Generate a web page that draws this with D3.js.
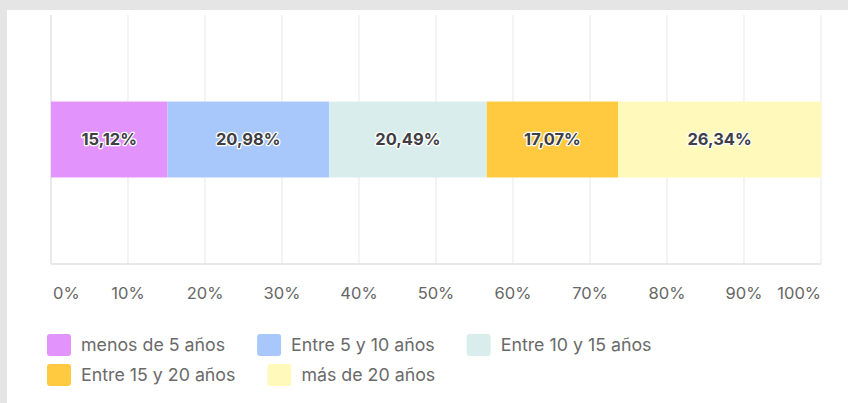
<!DOCTYPE html>
<html>
<head>
<meta charset="utf-8">
<script src="https://cdn.jsdelivr.net/npm/d3@7"></script>
<style>
  html, body { margin: 0; padding: 0; background: #e5e5e5; }
  svg { display: block; }
  text { font-family: Inter, "Noto Sans", sans-serif; }
</style>
</head>
<body>
<svg id="viz" width="848" height="403"></svg>
<script>
// Data

var categories = ["menos de 5 años", "Entre 5 y 10 años", "Entre 10 y 15 años", "Entre 15 y 20 años", "más de 20 años"];
var values = [15.12, 20.98, 20.49, 17.07, 26.34];
var colours = ["#e293fc", "#a8c8fb", "#d9eeec", "#ffc940", "#fff9bb"];
var tick_values = [0, 10, 20, 30, 40, 50, 60, 70, 80, 90, 100];

var svg = d3.select("#viz");

// white panel
svg.append("rect")
    .attr("x", 7).attr("y", 10)
    .attr("width", 841).attr("height", 393)
    .attr("fill", "#fff");

var x = d3.scaleLinear().domain([0, 100]).range([51, 821]);
var y = d3.scaleBand().domain(["row"]).range([15, 264]).paddingInner(0).paddingOuter(1.14);

// Grid lines

var g = svg.append("g");

g.selectAll("line.grid")
    .data(tick_values)
    .enter().append("line")
      .attr("class", "grid")
      .attr("x1", d => x(d)).attr("x2", d => x(d))
      .attr("y1", 15).attr("y2", 264)
      .style("stroke", d => d == 0 ? "#dcdcdc" : "#ececec")
      .attr("stroke-width", 1.2);

g.append("line")
    .attr("x1", x(0)).attr("x2", x(100))
    .attr("y1", 264).attr("y2", 264)
    .style("stroke", "#e2e2e2")
    .attr("stroke-width", 1.5);

// Tick labels (first start-anchored, last end-anchored)

g.selectAll("text.tick")
    .data(tick_values)
    .enter().append("text")
      .attr("class", "tick")
      .attr("x", d => d == 0 ? x(d) + 2 : x(d))
      .attr("y", 299)
      .attr("text-anchor", d => d == 0 ? "start" : (d == 100 ? "end" : "middle"))
      .attr("font-size", 16.5)
      .attr("fill", "#666")
      .text(d => d + "%");

// Stacked bar

var stacked = [];
var acc = 0;
values.forEach(function(v, i) {
    stacked.push({ start: acc, end: acc + v, value: v, colour: colours[i] });
    acc += v;
});

var bars = g.append("g");

bars.selectAll("rect")
    .data(stacked)
    .enter().append("rect")
      .attr("x", d => x(d.start))
      .attr("width", d => x(d.end) - x(d.start))
      .attr("y", y("row"))
      .attr("height", y.bandwidth())
      .attr("fill", d => d.colour);

function fmt(v) {
    return v.toFixed(2).replace(".", ",") + "%";
}

bars.selectAll("text")
    .data(stacked)
    .enter().append("text")
      .attr("x", d => (x(d.start) + x(d.end)) / 2)
      .attr("y", y("row") + y.bandwidth() / 2)
      .attr("dy", "0.35em")
      .attr("text-anchor", "middle")
      .attr("font-size", 16.5)
      .attr("font-weight", 700)
      .attr("fill", "#3e3e44")
      .attr("stroke", "#fff")
      .attr("stroke-width", 2.5)
      .attr("stroke-linejoin", "round")
      .attr("paint-order", "stroke")
      .text(d => fmt(d.value));

// Legend

var legend_rows = [[0, 1, 2], [3, 4]];
var row_y = [345, 375];

legend_rows.forEach(function(row, r) {
    var cx = 47;
    row.forEach(function(i) {
        var item = g.append("g");
        item.append("rect")
            .attr("x", cx).attr("y", row_y[r] - 11)
            .attr("width", 24).attr("height", 22)
            .attr("rx", 3)
            .attr("fill", colours[i]);
        var t = item.append("text")
            .attr("x", cx + 34)
            .attr("y", row_y[r])
            .attr("dy", "0.35em")
            .attr("font-size", 17.8)
            .attr("fill", "#6a6a6a")
            .text(categories[i]);
        cx = cx + 34 + t.node().getComputedTextLength() + 32;
    });
});
</script>
</body>
</html>
